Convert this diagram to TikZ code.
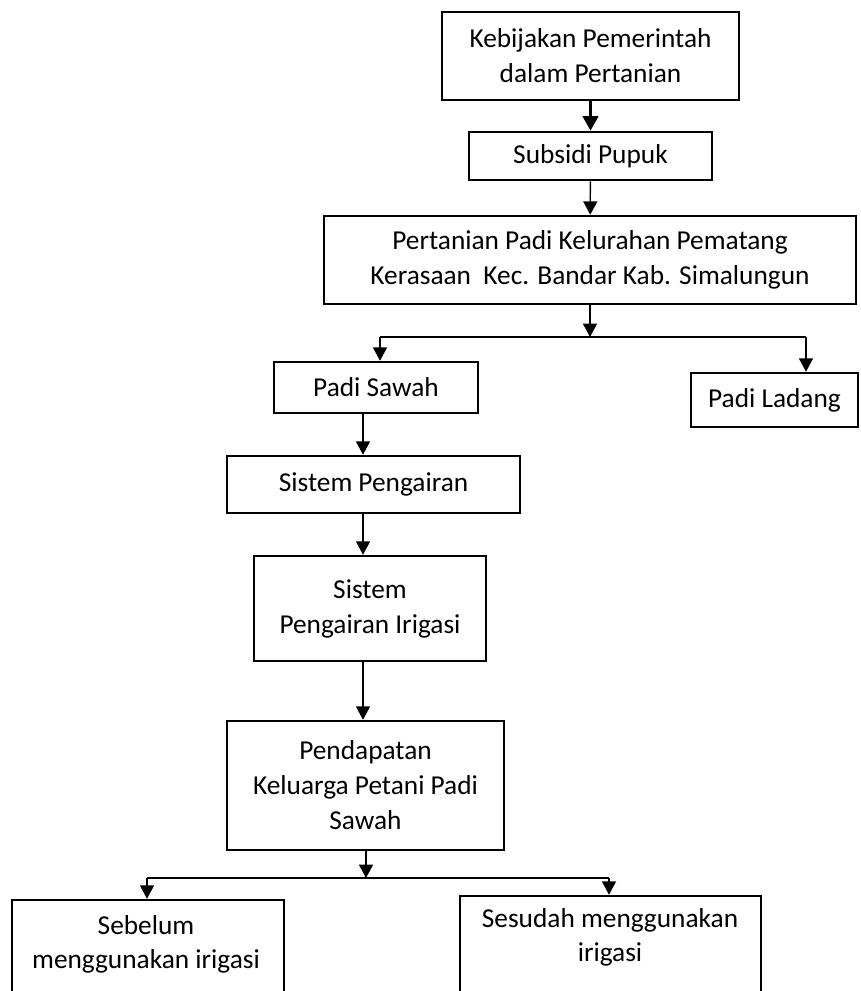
\documentclass[tikz,border=0pt]{standalone}
\usepackage{fontspec}
\setmainfont{Carlito}
\usetikzlibrary{arrows.meta}

\tikzset{every picture/.style={line width=1pt}}
\tikzset{
  box/.style={draw, line width=1.9pt, inner sep=0pt, align=center,
    font=\fontsize{20.5}{26.25}\selectfont},
  boxtext/.style={inner sep=0pt, align=center,
    font=\fontsize{20.5}{25.5}\selectfont},
  arr/.style={-{Triangle[length=10pt,width=10.5pt]}},
  thickarr/.style={line width=2.6pt, -{Triangle[length=11pt,width=11.5pt]}}
}

\begin{document}
\begin{tikzpicture}[x=0.75pt,y=0.75pt,yscale=-1,xscale=1]
\useasboundingbox (0,0) rectangle (860,991);

% Shapes: boxes
\node [box, minimum width=222.75pt, minimum height=66pt] (kebijakan) at (590.5,56) {Kebijakan Pemerintah\\dalam Pertanian};
\node [box, minimum width=182.25pt, minimum height=36pt] (subsidi) at (590.5,156) {Subsidi Pupuk};
\node [box, minimum width=399pt, minimum height=66pt] (pertanian) at (590,260) {Pertanian Padi Kelurahan Pematang\\Kerasaan~~Kec. Bandar Kab. Simalungun};
\node [box, minimum width=153pt, minimum height=38.25pt] (sawah) at (376,387.5) {Padi Sawah};
\node [box, minimum width=125.25pt, minimum height=40.5pt] (ladang) at (774.5,400) {Padi Ladang};
\node [box, minimum width=219.75pt, minimum height=42.75pt] (pengairan) at (373.5,484.5) {Sistem Pengairan};
\node [box, minimum width=174pt, minimum height=78.75pt] (irigasi) at (370,608.5) {Sistem\\Pengairan Irigasi};
\node [box, minimum width=207.75pt, minimum height=96.75pt] (pendapatan) at (365.5,785.5) {Pendapatan\\Keluarga Petani Padi\\Sawah};
\node [box, minimum width=204pt, minimum height=82.5pt] (sebelum) at (148,955) {};
\node [box, minimum width=225.75pt, minimum height=85.5pt] (sesudah) at (610.5,953) {};

% Text Node
\node [boxtext] (sebelumtext) at (146,944) {Sebelum\\menggunakan irigasi};
% Text Node
\node [boxtext] (sesudahtext) at (610,937) {Sesudah menggunakan\\irigasi};

% Branch points
\coordinate (split1) at (590,337);
\coordinate (split1l) at (380,337);
\coordinate (split1r) at (806,337);
\coordinate (axis) at (363,0);
\coordinate (split2) at (366,878);
\coordinate (split2l) at (147,878);
\coordinate (split2r) at (609,878);

% Straight Lines
\draw [thickarr] (kebijakan) -- (subsidi);
\draw [arr] (subsidi) -- (pertanian);
\draw [arr] (pertanian.south -| split1) -- (split1);
\draw (split1l) -- (split1r);
\draw [arr] (split1l) -- (split1l |- sawah.north);
\draw [arr] (split1r) -- (split1r |- ladang.north);
\draw [arr] (sawah.south -| axis) -- (pengairan.north -| axis);
\draw [arr] (pengairan.south -| axis) -- (irigasi.north -| axis);
\draw [arr] (irigasi.south -| axis) -- (pendapatan.north -| axis);
\draw [arr] (pendapatan.south -| split2) -- (split2);
\draw (split2l) -- (split2r);
\draw [arr] (split2l) -- (split2l |- sebelum.north);
\draw [arr] (split2r) -- (split2r |- sesudah.north);

\end{tikzpicture}
\end{document}
